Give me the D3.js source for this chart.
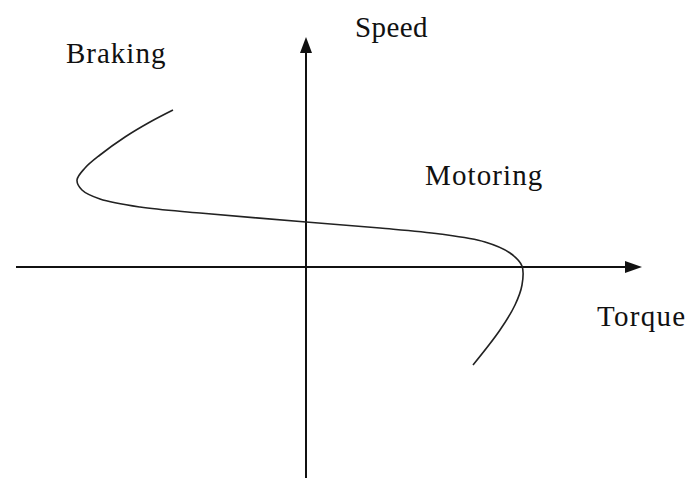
<!DOCTYPE html>
<html><head><meta charset="utf-8">
<script src="https://cdn.jsdelivr.net/npm/d3@7"></script>
<style>body{margin:0;background:#fff}svg{display:block}text{font-family:"Liberation Serif","DejaVu Serif",serif;fill:#111}</style>
</head><body>
<svg id="c" width="688" height="478"></svg>
<script>
// Curve points: torque, speed (arbitrary units)
const torque = [-13.3,-15.6,-18.1,-20.6,-22.1,-22.9,-22.4,-20.6,-16.6,-10.6,0,7.4,13.4,17.9,20.4,21.6,21.6,20.9,19.4,16.7];
const speed  = [15.7,14.5,13.0,11.2,9.9,8.7,7.7,6.8,6.0,5.4,4.5,3.9,3.3,2.5,1.4,0.1,-1.8,-3.8,-6.3,-9.8];
const labels = ["Braking","Speed","Motoring","Torque"];
const labelPos = [[-24,20.4],[4.9,23],[11.9,8.2],[29.1,-5.9]]; // in data units
const labelSpacing = [1,0.4,1.1,1.3];

const svg = d3.select("#c");
const x = d3.scaleLinear().domain([-29, 33.6]).range([16, 642]);
const y = d3.scaleLinear().domain([-21.1, 23]).range([478, 37]);

// axes
svg.append("line").attr("x1",x(-29)).attr("x2",x(33.6)-14).attr("y1",y(0)).attr("y2",y(0))
  .attr("stroke","#111").attr("stroke-width",2);
svg.append("line").attr("x1",x(0)).attr("x2",x(0)).attr("y1",y(-21.1)).attr("y2",y(23)+14)
  .attr("stroke","#111").attr("stroke-width",2);
// arrowheads
const ax = x(33.6), ay = y(0);
svg.append("path").attr("d",`M${ax},${ay} L${ax-17},${ay-6} L${ax-17},${ay+6} Z`).attr("fill","#111");
const vx = x(0), vy = y(23);
svg.append("path").attr("d",`M${vx},${vy} L${vx-6},${vy+16} L${vx+6},${vy+16} Z`).attr("fill","#111");

// curve
const pts = torque.map((t,i)=>[t,speed[i]]);
const line = d3.line().x(d=>x(d[0])).y(d=>y(d[1])).curve(d3.curveCatmullRom.alpha(0.5));
svg.append("path").attr("d",line(pts)).attr("fill","none").attr("stroke","#222").attr("stroke-width",1.6);

// labels
labels.forEach((l,i)=>{
  svg.append("text").attr("x",x(labelPos[i][0])).attr("y",y(labelPos[i][1]))
    .attr("font-size",29).attr("letter-spacing",labelSpacing[i]).text(l);
});
</script>
</body></html>
